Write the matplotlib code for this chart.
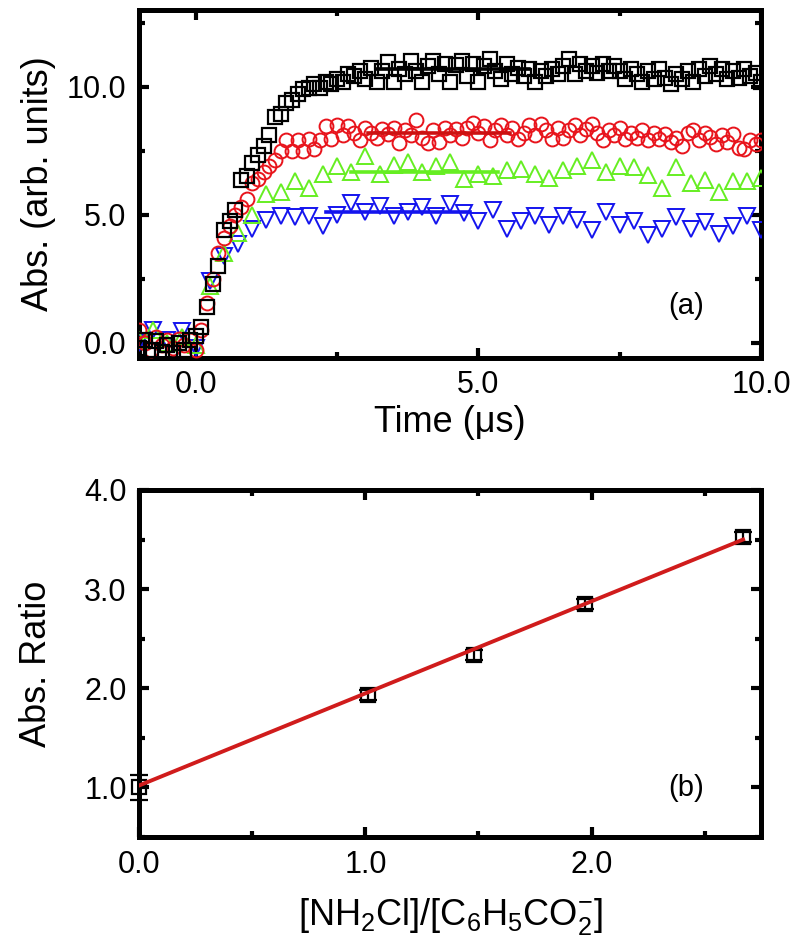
import matplotlib
matplotlib.use('Agg')
import matplotlib.pyplot as plt
from matplotlib.ticker import MultipleLocator

plt.rcParams['font.family'] = ['Liberation Sans', 'DejaVu Sans']
plt.rcParams['mathtext.fontset'] = 'custom'
plt.rcParams['mathtext.rm'] = 'Liberation Sans'
plt.rcParams['mathtext.it'] = 'Liberation Sans'
plt.rcParams['mathtext.default'] = 'regular'

# ---------------- panel (a) data ----------------
t_fast = [-1.0, -0.9, -0.8, -0.7, -0.6, -0.5, -0.4, -0.3, -0.2, -0.1,
          0.0, 0.1, 0.2, 0.3, 0.4, 0.5, 0.6, 0.7, 0.8, 0.9,
          1.0, 1.1, 1.2, 1.3, 1.4, 1.5, 1.6, 1.7, 1.8, 1.9,
          2.0, 2.1, 2.2, 2.3, 2.4, 2.5, 2.6, 2.7, 2.8, 2.9,
          3.0, 3.1, 3.2, 3.3, 3.4, 3.5, 3.6, 3.7, 3.8, 3.9,
          4.0, 4.1, 4.2, 4.3, 4.4, 4.5, 4.6, 4.7, 4.8, 4.9,
          5.0, 5.1, 5.2, 5.3, 5.4, 5.5, 5.6, 5.7, 5.8, 5.9,
          6.0, 6.1, 6.2, 6.3, 6.4, 6.5, 6.6, 6.7, 6.8, 6.9,
          7.0, 7.1, 7.2, 7.3, 7.4, 7.5, 7.6, 7.7, 7.8, 7.9,
          8.0, 8.1, 8.2, 8.3, 8.4, 8.5, 8.6, 8.7, 8.8, 8.9,
          9.0, 9.1, 9.2, 9.3, 9.4, 9.5, 9.6, 9.7, 9.8, 9.9,
          10.0]

abs_black = [-0.2, 0.1, -0.3, 0.05, -0.35, -0.1, -0.4, 0.0, -0.3, 0.1,
             0.25, 0.6, 1.4, 2.3, 3.0, 4.4, 4.75, 5.2, 6.35, 6.5,
             7.0, 7.35, 7.7, 8.1, 8.8, 8.95, 9.35, 9.5, 9.7, 9.9,
             9.95, 10.1, 9.95, 10.2, 10.1, 10.3, 10.2, 10.5, 10.4, 10.6,
             10.3, 10.75, 10.2, 10.6, 10.95, 10.2, 10.7, 10.5, 11.0, 10.6,
             10.2, 10.8, 11.0, 10.5, 10.9, 10.2, 10.85, 11.0, 10.4, 10.9,
             10.2, 10.8, 11.1, 10.6, 10.3, 10.9, 10.5, 10.75, 10.4, 10.7,
             10.2, 10.6, 10.4, 10.7, 10.5, 10.8, 11.1, 10.5, 10.9, 10.6,
             10.8, 10.55, 10.9, 10.6, 10.8, 10.6, 10.3, 10.7, 10.5, 10.2,
             10.6, 10.3, 10.7, 10.35, 10.1, 10.5, 10.3, 10.6, 10.2, 10.7,
             10.4, 10.8, 10.5, 10.7, 10.3, 10.6, 10.35, 10.7, 10.4, 10.55,
             10.2]

abs_red = [0.5, 0.0, -0.3, 0.2, -0.1, 0.1, -0.2, 0.15, -0.1, 0.1,
           -0.3, 0.5, 1.55, 2.5, 3.5, 4.1, 4.55, 5.0, 5.3, 5.6,
           6.25, 6.4, 6.65, 6.9, 7.15, 7.5, 7.9, 7.5, 7.9, 7.5,
           7.95, 7.55, 7.9, 8.45, 7.95, 8.5, 8.1, 8.45, 8.2, 7.9,
           8.4, 8.2, 8.0, 8.35, 8.15, 8.4, 7.8, 8.3, 8.1, 8.7,
           8.0, 7.8, 8.3, 7.85, 8.4, 8.1, 8.35, 8.0, 8.4, 8.6,
           8.2, 8.45, 7.9, 8.3, 8.5, 8.1, 8.4, 7.95, 8.2, 8.5,
           8.1, 8.55, 8.3, 7.95, 8.4, 8.0, 8.3, 8.5, 8.1, 8.35,
           8.55, 8.2, 7.9, 8.3, 8.1, 8.4, 7.95, 8.2, 8.0, 8.3,
           7.9, 8.2, 7.95, 8.15, 7.85, 8.0, 7.7, 8.2, 8.3, 7.9,
           8.2, 8.05, 7.75, 8.1, 7.85, 8.15, 7.6, 7.55, 7.9, 7.75,
           7.9]

t_slow = [-1.0, -0.75, -0.5, -0.25, 0.0, 0.25, 0.5, 0.75, 1.0, 1.25,
          1.5, 1.75, 2.0, 2.25, 2.5, 2.75, 3.0, 3.25, 3.5, 3.75,
          4.0, 4.25, 4.5, 4.75, 5.0, 5.25, 5.5, 5.75, 6.0, 6.25,
          6.5, 6.75, 7.0, 7.25, 7.5, 7.75, 8.0, 8.25, 8.5, 8.75,
          9.0, 9.25, 9.5, 9.75, 10.0]

abs_green = [0.1, 0.5, 0.0, 0.2, -0.1, 2.2, 3.5, 4.3, 5.0, 5.8,
             5.9, 6.3, 6.05, 6.6, 6.9, 6.65, 7.3, 6.6, 6.95, 7.05,
             6.65, 6.9, 7.05, 6.4, 6.6, 6.5, 6.75, 6.8, 6.6, 6.45,
             6.75, 6.9, 7.15, 6.65, 6.9, 6.85, 6.55, 6.05, 6.85, 6.25,
             6.35, 5.9, 6.3, 6.3, 6.45]

abs_blue = [0.0, 0.5, 0.1, 0.45, -0.2, 2.4, 3.4, 3.85, 4.45, 4.8,
            4.95, 4.9, 4.95, 4.55, 5.0, 5.45, 5.1, 5.35, 4.95, 5.1,
            5.3, 4.95, 5.4, 5.05, 4.75, 5.2, 4.45, 4.75, 4.95, 4.6,
            4.95, 4.8, 4.4, 5.1, 4.6, 4.75, 4.2, 4.45, 4.9, 4.45,
            4.7, 4.25, 4.55, 4.95, 4.4]

# plateau fit segments (start time, end time, level)
fit_black = (3.2, 5.9, 10.68)
fit_red = (3.05, 5.55, 8.2)
fit_green = (2.75, 5.35, 6.68)
fit_blue = (2.3, 4.85, 5.1)

# ---------------- panel (b) data ----------------
ratio_x = [0.0, 1.01, 1.48, 1.97, 2.67]
ratio_y = [1.0, 1.93, 2.34, 2.85, 3.53]
ratio_err = [0.13, 0.05, 0.05, 0.05, 0.05]
line_x = [0.0, 2.67]
line_y = [1.02, 3.50]

RED = '#e8141c'
GREEN = '#66ee22'
BLUE = '#1414ee'

fig = plt.figure(figsize=(8, 9.49), dpi=100)
ax1 = fig.add_axes([0.174, 0.6228, 0.7775, 0.3667])
ax2 = fig.add_axes([0.174, 0.118, 0.7775, 0.3657])

ax1.plot(t_slow, abs_blue, linestyle='none', marker='v', ms=12, mfc='none',
         mec=BLUE, mew=1.4, zorder=3)
ax1.plot(t_slow, abs_green, linestyle='none', marker='^', ms=12, mfc='none',
         mec=GREEN, mew=1.4, zorder=4)
ax1.plot(t_fast, abs_red, linestyle='none', marker='o', ms=10, mfc='none',
         mec=RED, mew=1.4, zorder=5)
ax1.plot(t_fast, abs_black, linestyle='none', marker='s', ms=10.5, mfc='none',
         mec='black', mew=1.6, zorder=6)

for seg, col in [(fit_blue, BLUE), (fit_green, GREEN), (fit_red, '#cc1111'),
                 (fit_black, 'black')]:
    ax1.plot([seg[0], seg[1]], [seg[2], seg[2]], color=col, lw=2.6, zorder=7)

ax1.set_xlim(-1.0, 10.0)
ax1.set_ylim(-0.6, 13.0)
ax1.xaxis.set_major_locator(MultipleLocator(5))
ax1.xaxis.set_minor_locator(MultipleLocator(2.5))
ax1.yaxis.set_major_locator(MultipleLocator(5))
ax1.yaxis.set_minor_locator(MultipleLocator(2.5))
ax1.xaxis.set_major_formatter(lambda v, p: f'{v:.1f}')
ax1.yaxis.set_major_formatter(lambda v, p: f'{v:.1f}')
ax1.set_xlabel('Time (\u03bcs)', fontsize=26, labelpad=3)
ax1.set_ylabel('Abs. (arb. units)', fontsize=26, labelpad=8)
ax1.text(0.88, 0.15, '(a)', transform=ax1.transAxes, fontsize=21,
         ha='center', va='center')

ax2.errorbar(ratio_x, ratio_y, yerr=ratio_err, fmt='s', ms=9.5, mfc='none',
             mec='black', mew=1.6, ecolor='black', elinewidth=1.6,
             capsize=6.5, capthick=2.8, zorder=3, clip_on=False)
ax2.plot(line_x, line_y, color='#d01c1c', lw=2.8, zorder=5)
ax2.set_xlim(0.0, 2.75)
ax2.set_ylim(0.5, 4.0)
ax2.xaxis.set_major_locator(MultipleLocator(1.0))
ax2.xaxis.set_minor_locator(MultipleLocator(0.5))
ax2.yaxis.set_major_locator(MultipleLocator(1.0))
ax2.yaxis.set_minor_locator(MultipleLocator(0.5))
ax2.xaxis.set_major_formatter(lambda v, p: f'{v:.1f}')
ax2.yaxis.set_major_formatter(lambda v, p: f'{v:.1f}')
ax2.set_xlabel('[NH$_2$Cl]/[C$_6$H$_5$CO$_2^{-}$]', fontsize=26, labelpad=12)
ax2.set_ylabel('Abs. Ratio', fontsize=26, labelpad=22)
ax2.text(0.88, 0.14, '(b)', transform=ax2.transAxes, fontsize=21,
         ha='center', va='center')

for ax in (ax1, ax2):
    for sp in ax.spines.values():
        sp.set_linewidth(3.6)
    ax.tick_params(which='both', direction='in', top=True, right=True,
                   labelsize=22, width=3)
    ax.tick_params(which='major', length=7, pad=9)
    ax.tick_params(which='minor', length=4)

fig.savefig('out.png', dpi=100)
